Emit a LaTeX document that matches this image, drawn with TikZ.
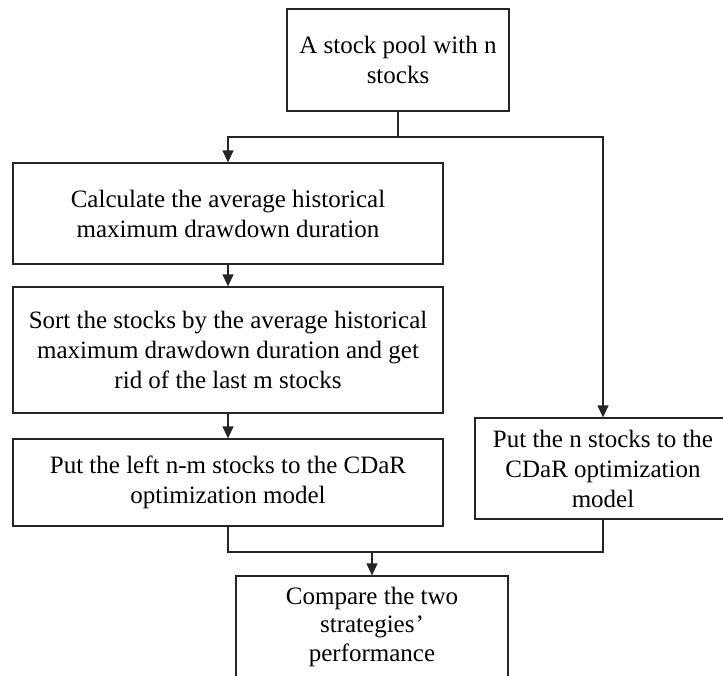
\documentclass[tikz,border=0pt]{standalone}
\usepackage{fontspec}
\setmainfont{Liberation Serif}
\usetikzlibrary{arrows.meta}
\begin{document}
\begin{tikzpicture}[x=1pt,y=-1pt,
  box/.style={draw=black!85,line width=1.3pt,rectangle,inner sep=0pt,align=center,
    font=\fontsize{25}{30}\selectfont},
  link/.style={draw=black!85,line width=1.3pt},
  arr/.style={link,-{Triangle[length=12pt,width=11pt]}}]
\useasboundingbox (0,0) rectangle (723,675);
\clip (0,0) rectangle (723,675);
\node[box,minimum width=222pt,minimum height=102pt] (b1) at (398,60) {A stock pool with n\\stocks};
\node[box,minimum width=430pt,minimum height=101pt] (b2) at (228,213.5) {Calculate the average historical\\maximum drawdown duration};
\node[box,minimum width=430pt,minimum height=126pt] (b3) at (228,350) {Sort the stocks by the average historical\\maximum drawdown duration and get\\rid of the last m stocks};
\node[box,minimum width=430pt,minimum height=87pt] (b4) at (228,482.5) {Put the left n-m stocks to the CDaR\\optimization model};
\node[box,minimum width=256pt,minimum height=101pt] (b5) at (603,468.5) {Put the n stocks to the\\CDaR optimization\\model};
\node[box,minimum width=272pt,minimum height=101pt,font=\fontsize{25}{28.5}\selectfont] (b6) at (372,626.5) {Compare the two\\strategies\kern1pt’\\performance};
\coordinate (split) at (398,137);
\coordinate (join) at (372,552);
\draw[link] (b1.south) -- (split);
\draw[arr] (split) -| (b2.north);
\draw[arr] (split) -| (b5.north);
\draw[arr] (b2.south) -- (b3.north);
\draw[arr] (b3.south) -- (b4.north);
\draw[link] (b4.south) |- (join);
\draw[link] (b5.south) |- (join);
\draw[arr] (join) -- (b6.north);
\end{tikzpicture}
\end{document}
